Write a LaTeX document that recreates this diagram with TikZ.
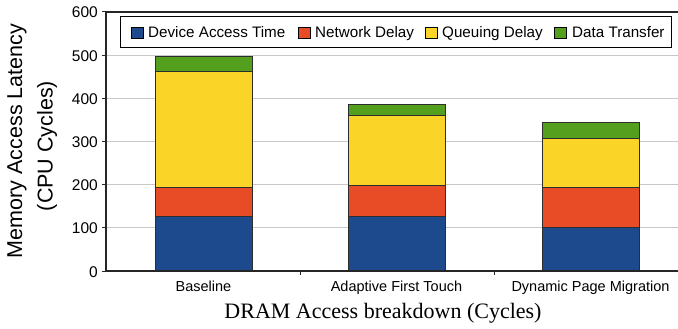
\documentclass[tikz,border=0pt]{standalone}
\usepackage{fontspec}
\setmainfont{Liberation Sans}
\newfontfamily\serifx{Liberation Serif}
\definecolor{cdev}{RGB}{28,74,140}
\definecolor{cnet}{RGB}{232,76,38}
\definecolor{cque}{RGB}{250,212,38}
\definecolor{cdat}{RGB}{84,160,30}
\definecolor{gridc}{RGB}{200,200,200}
\definecolor{barline}{RGB}{45,45,45}
\begin{document}
\begin{tikzpicture}[x=1pt,y=-1pt,
  barseg/.style={draw=barline,line width=0.9pt},
  gridline/.style={draw=gridc,line width=0.9pt},
  axisline/.style={draw=black!85,line width=1.6pt},
  ticklab/.style={font=\fontsize{15.5}{18}\selectfont,anchor=base east,inner sep=0pt},
  catlab/.style={font=\fontsize{14.5}{17}\selectfont,anchor=base,inner sep=0pt},
  leglab/.style={font=\fontsize{15.2}{18}\selectfont,anchor=base west,inner sep=0pt},
  legsq/.style={draw=black,line width=0.8pt},
  ylab/.style={font=\fontsize{21.5}{25}\selectfont,rotate=90,anchor=base,inner sep=0pt},
  xlab/.style={font=\serifx\fontsize{22}{26}\selectfont,anchor=base,inner sep=0pt}]
\useasboundingbox (0,0) rectangle (678,329);
\clip (0,0) rectangle (678,329);
% grid
\foreach \v in {1,...,5}{
  \draw[gridline] (106,{271-43.167*\v}) -- (680,{271-43.167*\v});
}
% bars
\foreach \x/\a/\b/\c/\d in {155/127/194/463/496, 348/127/198/361/386, 542/100/194/307/343}{
  \draw[barseg,fill=cdev] (\x,271) rectangle ({\x+97},{271-0.43167*\a});
  \draw[barseg,fill=cnet] (\x,{271-0.43167*\a}) rectangle ({\x+97},{271-0.43167*\b});
  \draw[barseg,fill=cque] (\x,{271-0.43167*\b}) rectangle ({\x+97},{271-0.43167*\c});
  \draw[barseg,fill=cdat] (\x,{271-0.43167*\c}) rectangle ({\x+97},{271-0.43167*\d});
}
% axes
\coordinate (o) at (106,271);
\coordinate (t) at (106,12);
\coordinate (r) at (680,271);
\coordinate (tr) at (680,12);
\draw[axisline] (t) -- (o) -- (r);
\draw[draw=black!85,line width=1.3pt] (t) -- (tr);
\foreach \v in {0,...,6}{
  \draw[black!85,line width=1pt] (102,{271-43.167*\v}) -- (106,{271-43.167*\v});
}
\foreach \xx in {300,494}{
  \draw[black!85,line width=1pt] (\xx,271) -- (\xx,274.5);
}
% tick labels
\node[ticklab] (t0) at (98,277) {0};
\node[ticklab] (t1) at (98,{277-43.167}) {100};
\node[ticklab] (t2) at (98,{277-2*43.167}) {200};
\node[ticklab] (t3) at (98,{277-3*43.167}) {300};
\node[ticklab] (t4) at (98,{277-4*43.167}) {400};
\node[ticklab] (t5) at (98,{277-5*43.167}) {500};
\node[ticklab] (t6) at (98,{277-6*43.167}) {600};
% category labels
\node[catlab] (c1) at (203.5,291.5) {Baseline};
\node[catlab] (c2) at (396.5,291.5) {Adaptive First Touch};
\node[catlab] (c3) at (590.5,291.5) {Dynamic Page Migration};
% axis titles
\node[ylab] (y1) at (22,141) {Memory Access Latency};
\node[ylab] (y2) at (52.5,146) {(CPU Cycles)};
\node[xlab] (xl) at (383,318) {DRAM Access breakdown (Cycles)};
% legend
\draw[draw=black,line width=0.9pt,fill=white] (120,16) rectangle (671,47);
\draw[legsq,fill=cdev] (131,27) rectangle (143,38);
\node[leglab] (l1) at (148,38) {Device Access Time};
\draw[legsq,fill=cnet] (298,27) rectangle (310,38);
\node[leglab] (l2) at (315,38) {Network Delay};
\draw[legsq,fill=cque] (425,27) rectangle (437,38);
\node[leglab] (l3) at (442,38) {Queuing Delay};
\draw[legsq,fill=cdat] (554,27) rectangle (566,38);
\node[leglab] (l4) at (572,38) {Data Transfer};
\end{tikzpicture}
\end{document}
